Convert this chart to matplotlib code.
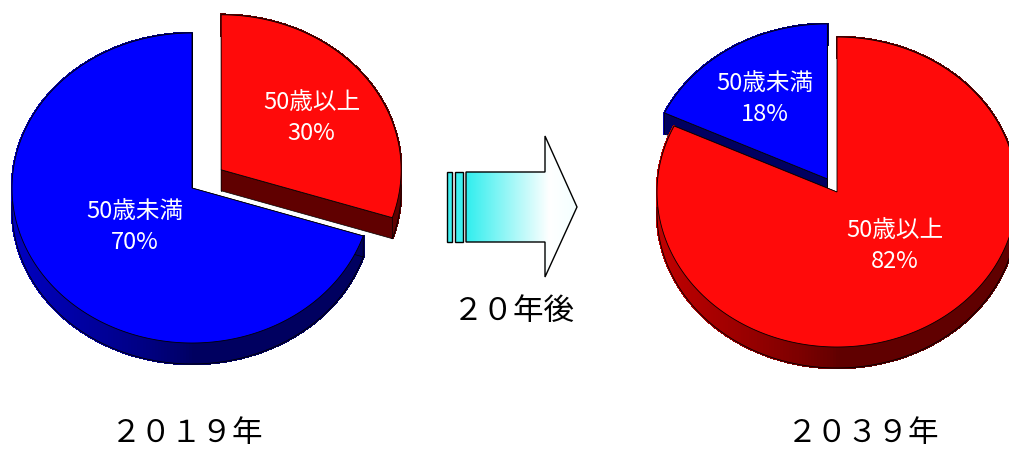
"""
Two 3D-looking exploded pies: age structure 2019 vs 2039
"""
import numpy as np
import matplotlib
matplotlib.use('Agg')
import matplotlib.pyplot as plt
import matplotlib.patches as patches
import matplotlib.colors as mcolors

plt.rcParams['font.family'] = ['Noto Sans CJK JP', 'DejaVu Sans']

# data
groups = ['50歳以上', '50歳未満']
share_2019 = [30, 70]
share_2039 = [82, 18]
years = ['２０１９年', '２０３９年']
arrow_text = '２０年後'

# style
face_cols = ['#ff0a0a', '#0000ff']
rim_bright = ['#c00000', '#0000c0']
rim_dark = ['#600000', '#000060']
RX, RY, DEPTH = 180, 155, 21


def ell(cx, cy, t):
    return cx + RX * np.sin(t), cy - RY * np.cos(t)


def draw_pie(ax, cx, cy, values, explode, label_off):
    values = np.asarray(values, float)
    ang = np.concatenate([[0], np.cumsum(values) / values.sum() * 2 * np.pi])
    wedges = []
    for i in range(len(values)):
        a0, a1 = ang[i], ang[i + 1]
        bis = (a0 + a1) / 2
        ox = cx + explode[i] * RX * np.sin(bis)
        oy = cy - explode[i] * RY * np.cos(bis)
        wedges.append((oy, i, a0, a1, ox, bis))
    # back to front
    for oy, i, a0, a1, ox, bis in sorted(wedges):
        n = max(3, int(np.degrees(a1 - a0)))
        t = np.linspace(a0, a1, n)
        xs, ys = ell(ox, oy, t)
        b = np.array(mcolors.to_rgb(rim_bright[i]))
        d = np.array(mcolors.to_rgb(rim_dark[i]))
        # outer rim, shaded by direction
        for k in range(n - 1):
            tm = (t[k] + t[k + 1]) / 2
            s = np.clip(-np.sin(tm), 0, 1) ** 0.8
            col = d + (b - d) * s
            q = [(xs[k], ys[k]), (xs[k + 1], ys[k + 1]),
                 (xs[k + 1], ys[k + 1] + DEPTH), (xs[k], ys[k] + DEPTH)]
            ax.add_patch(patches.Polygon(q, closed=True, fc=col, ec=col, lw=1.2,
                                         antialiased=False))
        # radial cut faces
        for (px, py) in [(xs[0], ys[0]), (xs[-1], ys[-1])]:
            q = [(ox, oy), (px, py), (px, py + DEPTH), (ox, oy + DEPTH)]
            ax.add_patch(patches.Polygon(q, closed=True, fc=d, ec='black', lw=0.5))
        # bottom outline of the front rim
        front = np.cos(t) < 0.05
        if front.any():
            ax.plot(xs[front], ys[front] + DEPTH, color='black', lw=0.6)
        # top face
        top = np.column_stack([np.r_[ox, xs], np.r_[oy, ys]])
        ax.add_patch(patches.Polygon(top, closed=True, fc=face_cols[i],
                                     ec='black', lw=0.6))
        fx, fy = label_off[i]
        lx, ly = ox + fx * RX * np.sin(bis), oy - fy * RY * np.cos(bis)
        ax.text(lx, ly, f'{groups[i]}\n{values[i]:.0f}%', color='white',
                fontsize=17, ha='center', va='center', linespacing=1.45)


fig = plt.figure(figsize=(10.09, 4.5), dpi=100)
ax = fig.add_axes([0, 0, 1, 1])
ax.set_xlim(0, 1009)
ax.set_ylim(450, 0)
ax.axis('off')

draw_pie(ax, 192, 188, share_2019, explode=[0.2, 0.0],
         label_off=[(0.62, 0.57), (0.39, 0.43)])
draw_pie(ax, 837, 192, share_2039, explode=[0.0, 0.1],
         label_off=[(0.6, 0.41), (0.65, 0.61)])

# arrow with cyan -> white gradient
arrow_pts = [(466, 172), (545, 172), (545, 136), (577, 207),
             (545, 277), (545, 242), (466, 242)]
arrow = patches.Polygon(arrow_pts, closed=True, fc='none', ec='black', lw=1.0, zorder=3)
ax.add_patch(arrow)
grad = np.linspace(0, 1, 256)[None, :]
cmap = mcolors.LinearSegmentedColormap.from_list(
    'cw', [(0, '#30eeee'), (0.75, '#ffffff'), (1, '#f4ffff')])
im = ax.imshow(grad, extent=(466, 577, 277, 136), cmap=cmap, aspect='auto', zorder=2)
im.set_clip_path(arrow)
for x0, w in [(447, 5), (455, 8)]:
    ax.add_patch(patches.Rectangle((x0, 172), w, 70, fc='#40f0f0', ec='black', lw=1.0))

ax.text(514, 312, arrow_text, fontsize=22, ha='center', va='center')
ax.text(187, 433, years[0], fontsize=22, ha='center', va='center')
ax.text(863, 433, years[1], fontsize=22, ha='center', va='center')

plt.savefig('out.png', dpi=100)
